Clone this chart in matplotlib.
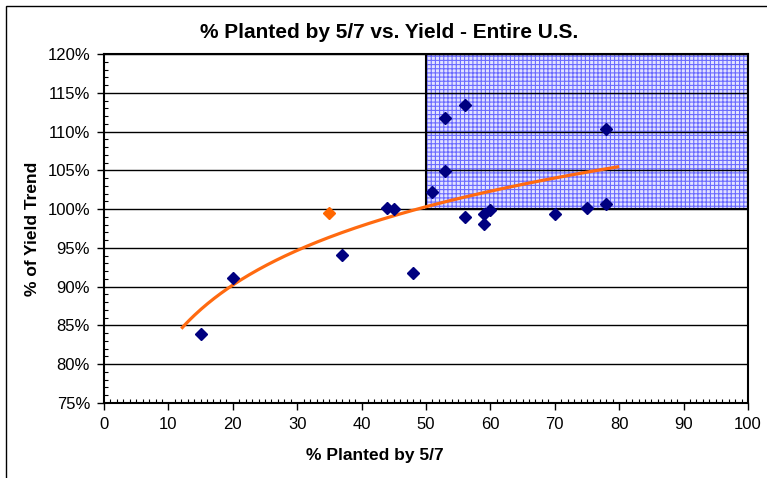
import numpy as np
import matplotlib
matplotlib.use("Agg")
import matplotlib.pyplot as plt
from matplotlib.patches import Rectangle
from matplotlib.ticker import MultipleLocator, FuncFormatter

# % plantado ate 5/7 e % da tendencia de produtividade (anos historicos)
plantado = [15, 20, 37, 44, 45, 48, 51, 53, 53, 56, 56, 59, 59, 60, 70, 75, 78, 78]
rendimento = [83.9, 91.1, 94.1, 100.2, 100.0, 91.8, 102.2, 111.8, 104.9,
              113.4, 99.0, 99.4, 98.1, 99.9, 99.4, 100.2, 100.6, 110.3]

# ano atual (ponto laranja)
plantado_atual = [35]
rendimento_atual = [99.5]

# zona destacada
zona_x = (50, 100)
zona_y = (100, 120)

# linha de tendencia logaritmica (de 12 a 80)
tendencia_inicio, tendencia_fim = 12, 80

plt.rcParams["font.family"] = ["Liberation Sans", "DejaVu Sans"]
plt.rcParams["hatch.linewidth"] = 0.8

fig = plt.figure(figsize=(7.67, 4.78), dpi=100)
ax = fig.add_axes([0.1356, 0.1569, 0.8396, 0.7301])

# moldura do grafico
fig.add_artist(Rectangle((0.008, -0.5), 2, 1.4874, transform=fig.transFigure,
                         fill=False, edgecolor="black", linewidth=1))

# zona azul hachurada
largura = zona_x[1] - zona_x[0]
altura = zona_y[1] - zona_y[0]
ax.add_patch(Rectangle((zona_x[0], zona_y[0]), largura, altura,
                       facecolor="#e2e2ff", edgecolor="none", zorder=1))
ax.add_patch(Rectangle((zona_x[0], zona_y[0]), largura, altura,
                       facecolor="none", edgecolor="#6a6aff", hatch="++++",
                       linewidth=0, zorder=1.1))
ax.add_patch(Rectangle((zona_x[0], zona_y[0]), largura, altura,
                       facecolor="none", edgecolor="black", linewidth=1.5,
                       zorder=2))

# ajuste logaritmico com todos os pontos
todos_x = np.array(plantado + plantado_atual, dtype=float)
todos_y = np.array(rendimento + rendimento_atual, dtype=float)
b, a = np.polyfit(np.log(todos_x), todos_y, 1)
xs = np.linspace(tendencia_inicio, tendencia_fim, 200)
ax.plot(xs, a + b * np.log(xs), color="#ff6a10", linewidth=2.3, zorder=3,
        solid_capstyle="butt")

ax.plot(plantado, rendimento, linestyle="none", marker="D", markersize=6.5,
        color="#000080", zorder=4)
ax.plot(plantado_atual, rendimento_atual, linestyle="none", marker="D",
        markersize=6.5, color="#ff6600", zorder=4)

ax.set_xlim(0, 100)
ax.set_ylim(75, 120)
ax.xaxis.set_major_locator(MultipleLocator(10))
ax.xaxis.set_minor_locator(MultipleLocator(1))
ax.yaxis.set_major_locator(MultipleLocator(5))
ax.yaxis.set_minor_locator(MultipleLocator(1))
ax.yaxis.set_major_formatter(FuncFormatter(lambda v, p: f"{v:.0f}%"))

ax.tick_params(which="major", direction="out", length=5, width=1,
               labelsize=12, pad=5)
ax.tick_params(which="minor", direction="in", length=3, width=0.8)

ax.set_axisbelow("line")
ax.grid(axis="y", which="major", color="black", linewidth=1)
for lado in ax.spines.values():
    lado.set_linewidth(1.5)
    lado.set_zorder(5)

fig.text(0.507, 0.931, "% Planted by 5/7 vs. Yield - Entire U.S.", fontsize=15,
         fontweight="bold", ha="center", va="center")
fig.text(0.489, 0.048, "% Planted by 5/7", fontsize=12.5, fontweight="bold",
         ha="center", va="center")
ax.set_ylabel("% of Yield Trend", fontsize=12.5, fontweight="bold", labelpad=5)

fig.savefig("out.png", dpi=100)
